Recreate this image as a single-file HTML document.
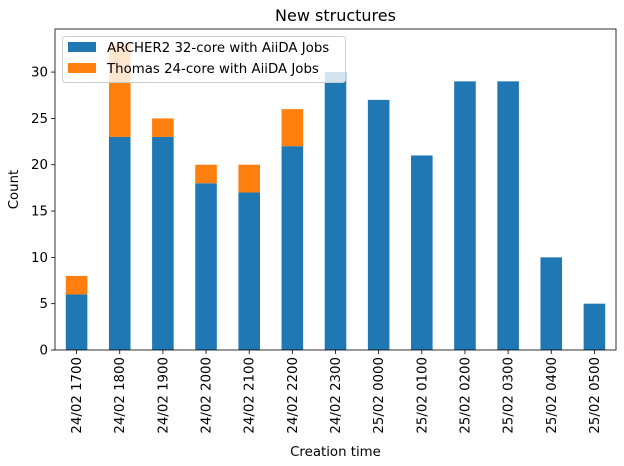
<!DOCTYPE html>
<html><head><meta charset="utf-8"><style>
body{margin:0;background:#fff;}
svg{font-family:"DejaVu Sans","Liberation Sans",sans-serif;}
</style></head><body>
<svg id="chart" width="624" height="461" xmlns="http://www.w3.org/2000/svg">
<text x="335.5" y="21" text-anchor="middle" font-size="16">New structures</text>
<g id="bars"></g>
<g id="axes"></g>
<text x="335.5" y="456" text-anchor="middle" font-size="13.33">Creation time</text>
<text transform="translate(18,189.5) rotate(-90)" text-anchor="middle" font-size="13.33">Count</text>
<g>
<rect x="62.5" y="36.5" width="283" height="46" rx="3" fill="#fff" fill-opacity="0.8" stroke="#ccc"/>
<rect x="68" y="42" width="28" height="10" fill="#1f77b4"/>
<text x="107" y="52" font-size="13.33">ARCHER2 32-core with AiiDA Jobs</text>
<rect x="68" y="63" width="28" height="10" fill="#ff7f0e"/>
<text x="107" y="73" font-size="13.33">Thomas 24-core with AiiDA Jobs</text>
</g>
</svg>
<script>
const categories=["24/02 1700","24/02 1800","24/02 1900","24/02 2000","24/02 2100","24/02 2200","24/02 2300","25/02 0000","25/02 0100","25/02 0200","25/02 0300","25/02 0400","25/02 0500"];
const archer=[6,23,23,18,17,22,30,27,21,29,29,10,5];
const thomas=[2,10,2,2,3,4,0,0,0,0,0,0,0];
const yTicks=[0,5,10,15,20,25,30];
const L=55,R=616,T=29,B=350;
const yMax=Math.max(...archer.map((a,i)=>a+thomas[i]))*1.05;
const ys=v=>B-v/yMax*(B-T);
const band=(R-L)/categories.length;
const xs=i=>L+band*(i+0.5);
const NS="http://www.w3.org/2000/svg";
const bars=document.getElementById('bars'),axes=document.getElementById('axes');
function mk(tag,attrs,parent){const e=document.createElementNS(NS,tag);for(const k in attrs)e.setAttribute(k,attrs[k]);parent.appendChild(e);return e;}
const bw=band*0.5;
categories.forEach((c,i)=>{
 const a=mk('rect',{x:xs(i)-bw/2,y:ys(archer[i]),width:bw,height:ys(0)-ys(archer[i]),fill:'#1f77b4'},bars);
 
 
 if(thomas[i]>0){
 const t=mk('rect',{x:xs(i)-bw/2,y:ys(archer[i]+thomas[i]),width:bw,height:ys(archer[i])-ys(archer[i]+thomas[i]),fill:'#ff7f0e'},bars);
 
 
 }
 mk('line',{x1:xs(i),x2:xs(i),y1:B,y2:B+4,stroke:'#000','stroke-width':0.8},axes);
 const tx=mk('text',{transform:`translate(${xs(i)+4.5},${B+7}) rotate(-90)`,'text-anchor':'end','font-size':13.33},axes);
 tx.textContent=c;
 
 
});
yTicks.forEach(v=>{
 mk('line',{x1:L-4,x2:L,y1:ys(v),y2:ys(v),stroke:'#000','stroke-width':0.8},axes);
 const t=mk('text',{x:L-7,y:ys(v)+4.5,'text-anchor':'end','font-size':13.33},axes);
 t.textContent=v;
 
 
});
const fr=mk('rect',{x:L,y:T,width:R-L,height:B-T,fill:'none',stroke:'#000','stroke-width':0.8},axes);


</script>
</body></html>
